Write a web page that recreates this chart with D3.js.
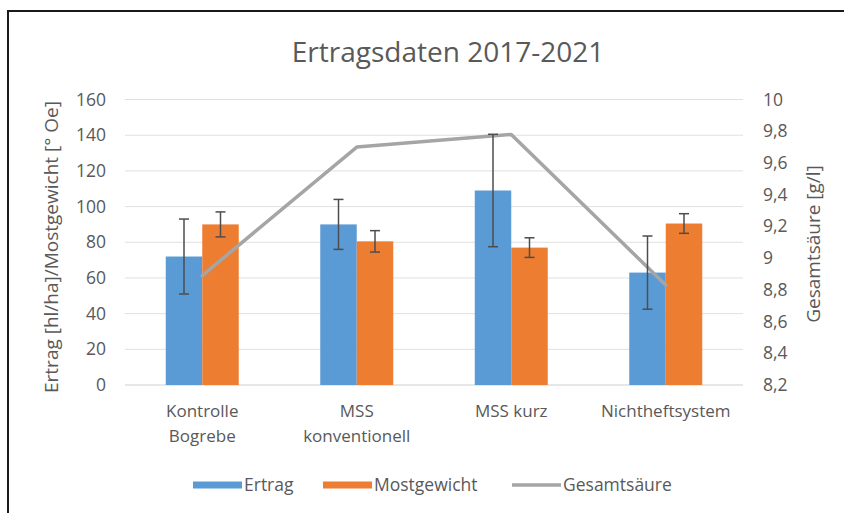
<!DOCTYPE html>
<html>
<head>
<meta charset="utf-8">
<script src="https://cdn.jsdelivr.net/npm/d3@7"></script>
<style>
  html, body { margin: 0; padding: 0; background: #fff; }
  svg { display: block; font-family: "Open Sans", "Noto Sans", sans-serif; }
</style>
</head>
<body>
<svg id="chart" width="844" height="513"></svg>
<script>
// Categories (multi-line labels) and series
const categories = [["Kontrolle", "Bogrebe"], ["MSS", "konventionell"], ["MSS kurz"], ["Nichtheftsystem"]];
const ertrag = [72, 90, 109, 63];
const ertragErr = [21, 14, 31.5, 20.5];
const mostgewicht = [90, 80.5, 77, 90.5];
const mostgewichtErr = [7, 6, 5.5, 5.5];
const gesamtsaeure = [8.89, 9.70, 9.78, 8.83];
const leftTicks = [0, 20, 40, 60, 80, 100, 120, 140, 160];
const rightTicks = [8.2, 8.4, 8.6, 8.8, 9.0, 9.2, 9.4, 9.6, 9.8, 10];

const svg = d3.select("#chart");
const W = 844, H = 513;
const textColor = "#595959";
const colors = { ertrag: "#5B9BD5", most: "#ED7D31", line: "#A5A5A5" };

const plot = { left: 125, right: 743, top: 99.5, bottom: 385 };

// Outer frame (top and left edges visible)
svg.append("rect").attr("width", W).attr("height", H).attr("fill", "#fff");
svg.append("path")
  .attr("d", `M8,${H} L8,11 L${W},11`)
  .attr("fill", "none").attr("stroke", "#1a1a1a").attr("stroke-width", 2);

const x = d3.scaleBand().domain(d3.range(categories.length))
  .range([plot.left, plot.right]).paddingInner(0).paddingOuter(0);
const yL = d3.scaleLinear().domain([0, 160]).range([plot.bottom, plot.top]);
const yR = d3.scaleLinear().domain([8.2, 10]).range([plot.bottom, plot.top]);

// Gridlines
svg.append("g").selectAll("line").data(leftTicks).join("line")
  .attr("x1", plot.left).attr("x2", plot.right)
  .attr("y1", d => yL(d)).attr("y2", d => yL(d))
  .attr("stroke", d => d === 0 ? "#cfcfcf" : "#e0e0e0").attr("stroke-width", 1);

// Axes
const axL = svg.append("g").attr("transform", `translate(${plot.left},0)`)
  .call(d3.axisLeft(yL).tickValues(leftTicks).tickSize(0).tickPadding(19).tickFormat(d3.format("d")));
const axR = svg.append("g").attr("transform", `translate(${plot.right},0)`)
  .call(d3.axisRight(yR).tickValues(rightTicks).tickSize(0).tickPadding(20)
    .tickFormat(d => (Math.round(d * 10) / 10).toString().replace(".", ",")));
[axL, axR].forEach(a => {
  a.select(".domain").remove();
  a.selectAll("text").attr("fill", textColor).style("font-size", "17.5px")
    .style("font-family", "'Open Sans', sans-serif");
});

// Bars
const bw = 36.5;
const cx = i => x(i) + x.bandwidth() / 2;
const bars = svg.append("g");
bars.selectAll("rect.e").data(ertrag).join("rect").attr("class", "e")
  .attr("x", (d, i) => cx(i) - bw).attr("width", bw)
  .attr("y", d => yL(d)).attr("height", d => yL(0) - yL(d))
  .attr("fill", colors.ertrag);
bars.selectAll("rect.m").data(mostgewicht).join("rect").attr("class", "m")
  .attr("x", (d, i) => cx(i)).attr("width", bw)
  .attr("y", d => yL(d)).attr("height", d => yL(0) - yL(d))
  .attr("fill", colors.most);

// Gesamtsäure line (right axis)
svg.append("path")
  .datum(gesamtsaeure)
  .attr("d", d3.line().x((d, i) => cx(i)).y(d => yR(d)))
  .attr("fill", "none").attr("stroke", colors.line).attr("stroke-width", 3.5)
  .attr("stroke-linejoin", "round").attr("stroke-linecap", "round");

// Error bars
function errorBars(vals, errs, offset) {
  const g = svg.append("g").attr("stroke", "#4d4d4d").attr("stroke-width", 1.5);
  vals.forEach((v, i) => {
    const px = cx(i) + offset;
    const y1 = yL(v + errs[i]), y2 = yL(v - errs[i]);
    g.append("line").attr("x1", px).attr("x2", px).attr("y1", y1).attr("y2", y2);
    g.append("line").attr("x1", px - 5).attr("x2", px + 5).attr("y1", y1).attr("y2", y1);
    g.append("line").attr("x1", px - 5).attr("x2", px + 5).attr("y1", y2).attr("y2", y2);
  });
}
errorBars(ertrag, ertragErr, -bw / 2);
errorBars(mostgewicht, mostgewichtErr, bw / 2);

// Category labels
const cat = svg.append("g").attr("fill", textColor).style("font-size", "17px").attr("text-anchor", "middle");
categories.forEach((lines, i) => {
  const t = cat.append("text").attr("x", cx(i)).attr("y", 417);
  lines.forEach((ln, j) => t.append("tspan").attr("x", cx(i)).attr("dy", j === 0 ? 0 : 25).text(ln));
});

// Title
svg.append("text").attr("x", 448).attr("y", 62).attr("text-anchor", "middle")
  .attr("fill", textColor).style("font-size", "28px").text("Ertragsdaten 2017-2021");

// Axis titles
svg.append("text").attr("transform", `translate(58,247) rotate(-90)`).attr("text-anchor", "middle")
  .attr("fill", textColor).style("font-size", "19px").text("Ertrag [hl/ha]/Mostgewicht [° Oe]");
svg.append("text").attr("transform", `translate(820,244) rotate(-90)`).attr("text-anchor", "middle")
  .attr("fill", textColor).style("font-size", "19px").text("Gesamtsäure [g/l]");

// Legend
const legend = svg.append("g").style("font-size", "17.5px").attr("fill", textColor);
const legendItems = [
  { label: "Ertrag", type: "rect", color: colors.ertrag, x: 193 },
  { label: "Mostgewicht", type: "rect", color: colors.most, x: 323 },
  { label: "Gesamtsäure", type: "line", color: colors.line, x: 512 }
];
legendItems.forEach(it => {
  if (it.type === "rect") {
    legend.append("rect").attr("x", it.x).attr("y", 481.5).attr("width", 49).attr("height", 7).attr("fill", it.color);
  } else {
    legend.append("line").attr("x1", it.x).attr("x2", it.x + 49).attr("y1", 485).attr("y2", 485)
      .attr("stroke", it.color).attr("stroke-width", 3.5);
  }
  legend.append("text").attr("x", it.x + 51).attr("y", 491).text(it.label);
});
</script>
</body>
</html>
